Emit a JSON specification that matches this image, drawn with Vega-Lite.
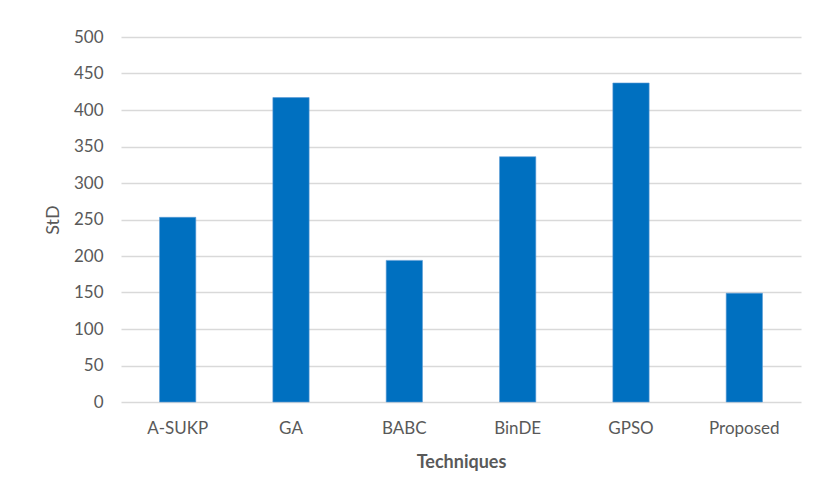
{
  "$schema": "https://vega.github.io/schema/vega-lite/v6.json",
  "width": 680,
  "height": 365,
  "autosize": {"type": "none"},
  "padding": {"left": 121, "top": 37, "right": 13, "bottom": 93},
  "background": "white",
  "config": {
    "view": {"stroke": null},
    "font": "Lato",
    "axis": {
      "labelFont": "Lato",
      "titleFont": "Lato",
      "labelColor": "#595959",
      "titleColor": "#595959",
      "labelFontSize": 17,
      "titleFontSize": 18
    }
  },
  "data": {
    "values": [
      {"technique": "A-SUKP", "std": 253},
      {"technique": "GA", "std": 417},
      {"technique": "BABC", "std": 194},
      {"technique": "BinDE", "std": 336},
      {"technique": "GPSO", "std": 437},
      {"technique": "Proposed", "std": 149}
    ]
  },
  "mark": {"type": "bar", "color": "#0070C0", "stroke": "#5B9BD5", "strokeWidth": 0.6},
  "encoding": {
    "x": {
      "field": "technique",
      "type": "nominal",
      "sort": null,
      "scale": {"paddingInner": 0.68, "paddingOuter": 0.34},
      "axis": {
        "title": "Techniques",
        "titleFontWeight": "bold",
        "titlePadding": 17,
        "labelAngle": 0,
        "labelPadding": 18,
        "ticks": false,
        "domain": false
      }
    },
    "y": {
      "field": "std",
      "type": "quantitative",
      "scale": {"domain": [0, 500], "nice": false},
      "axis": {
        "title": "StD",
        "titleFontWeight": "normal",
        "titlePadding": 11,
        "values": [0, 50, 100, 150, 200, 250, 300, 350, 400, 450, 500],
        "labelPadding": 18,
        "ticks": false,
        "domain": false,
        "grid": true,
        "gridColor": "#d9d9d9",
        "gridWidth": 1.6
      }
    }
  }
}
